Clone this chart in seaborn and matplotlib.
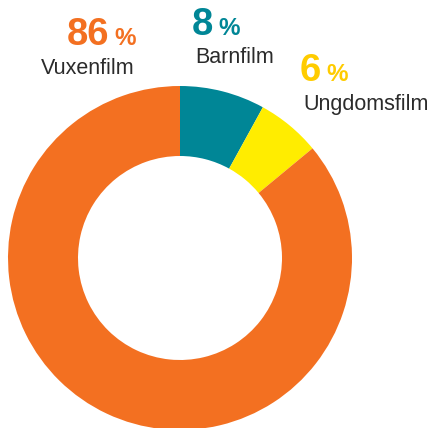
import matplotlib
matplotlib.use("Agg")
import matplotlib.pyplot as plt
import seaborn as sns

categories = ["Barnfilm", "Ungdomsfilm", "Vuxenfilm"]
values = [8, 6, 86]
colors = ["#008696", "#FFED00", "#F37021"]
label_colors = ["#008696", "#FFCC00", "#F37021"]

sns.set_theme(style="white")
plt.rcParams['font.family'] = ['Liberation Sans', 'DejaVu Sans']

W, H = 432, 428
fig = plt.figure(figsize=(W / 100, H / 100), dpi=100)
ax = fig.add_axes([0, 0, 1, 1])

R = 172
ax.pie(values, colors=colors, startangle=90, counterclock=False,
       center=(180, H - 258), radius=R, frame=True,
       wedgeprops=dict(width=70, linewidth=0))
ax.set_xlim(0, W)
ax.set_ylim(0, H)
ax.axis("off")

# label layout in pixel coords from top-left
layout = {
    "Vuxenfilm": dict(px=109, py=45, nx=135, ny=74, ha="right"),
    "Barnfilm": dict(px=213, py=35, nx=195, ny=63, ha="left"),
    "Ungdomsfilm": dict(px=321, py=81, nx=303, ny=110, ha="left"),
}
for cat, val, col in zip(categories, values, label_colors):
    L = layout[cat]
    ax.text(L["px"], H - L["py"], f"{val}", color=col, fontsize=27.5, fontweight="bold",
            ha="right", va="baseline")
    ax.text(L["px"] + 5, H - L["py"], "%", color=col, fontsize=17.5, fontweight="bold",
            ha="left", va="baseline")
    ax.text(L["nx"], H - L["ny"], cat, color="#2b2b2b", fontsize=15.5,
            ha=L["ha"], va="baseline")

fig.savefig("out.png", dpi=100)
